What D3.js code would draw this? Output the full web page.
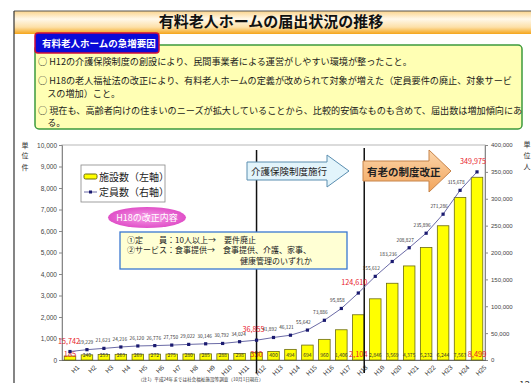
<!DOCTYPE html>
<html lang="ja">
<head>
<meta charset="utf-8">
<script src="https://cdn.jsdelivr.net/npm/d3@7/dist/d3.min.js"></script>
<style>
  html, body { margin: 0; padding: 0; background: #fff; }
  svg { display: block; font-family: "Noto Sans CJK JP", "Noto Sans", sans-serif; }
</style>
</head>
<body>
<svg id="chart" width="531" height="383"></svg>
<script>
// 年度（平成）
const years = ["H1","H2","H3","H4","H5","H6","H7","H8","H9","H10","H11","H12","H13",
  "H14","H15","H16","H17","H18","H19","H20","H21","H22","H23","H24","H25"];
// 施設数（件）
const facilities = [185, 240, 253, 263, 269, 272, 275, 280, 285, 288, 298, 350, 400,
  494, 694, 960, 1406, 2104, 2846, 3569, 4375, 5232, 6244, 7563, 8499];
// 定員数（人）
const capacity = [15742, 19229, 21623, 24216, 26120, 26776, 27750, 29022, 30146, 30792, 34024, 36855, 41892,
  46121, 55642, 73886, 95858, 124610, 155612, 183236, 208827, 235896, 271286, 315678, 349975];
// 軸目盛
const leftTicks = [0, 1000, 2000, 3000, 4000, 5000, 6000, 7000, 8000, 9000, 10000];
const rightTicks = [0, 50000, 100000, 150000, 200000, 250000, 300000, 350000, 400000];
// 強調表示する年度
const highlightYears = ["H1", "H12", "H18", "H25"];

const reasons = [
  "○ H12の介護保険制度の創設により、民間事業者による運営がしやすい環境が整ったこと。",
  "○ H18の老人福祉法の改正により、有料老人ホームの定義が改められて対象が増えた（定員要件の廃止、対象サービ",
  "　スの増加）こと。",
  "○ 現在も、高齢者向けの住まいのニーズが拡大していることから、比較的安価なものも含めて、届出数は増加傾向にあ",
  "　る。"
];

const svg = d3.select("#chart");
const defs = svg.append("defs");

// ---- 見出し帯 ----
const hg = defs.append("linearGradient").attr("id", "hdr").attr("x1", 0).attr("y1", 0).attr("x2", 0).attr("y2", 1);
hg.append("stop").attr("offset", "0%").attr("stop-color", "#fbd48c");
hg.append("stop").attr("offset", "35%").attr("stop-color", "#fff8ea");
hg.append("stop").attr("offset", "70%").attr("stop-color", "#fde0a8");
hg.append("stop").attr("offset", "100%").attr("stop-color", "#f5a51a");
svg.append("rect").attr("x", 14).attr("y", 11).attr("width", 520).attr("height", 23).attr("fill", "url(#hdr)");
svg.append("line").attr("x1", 14).attr("x2", 531).attr("y1", 11).attr("y2", 11).attr("stroke", "#555").attr("stroke-width", 1);
svg.append("line").attr("x1", 14).attr("x2", 14).attr("y1", 11).attr("y2", 383).attr("stroke", "#333").attr("stroke-width", 1.2);
svg.append("text").attr("x", 271).attr("y", 27).attr("text-anchor", "middle")
  .attr("font-size", 15).attr("font-weight", "bold").attr("fill", "#111")
  .text("有料老人ホームの届出状況の推移");

// ---- 急増要因ボックス ----
svg.append("rect").attr("x", 35).attr("y", 45).attr("width", 487).attr("height", 84).attr("rx", 4)
  .attr("fill", "#ffffb4").attr("stroke", "#3c9a3c").attr("stroke-width", 1.5);
svg.append("rect").attr("x", 35).attr("y", 33).attr("width", 124).attr("height", 20).attr("rx", 3)
  .attr("fill", "#0a0ad8").attr("stroke", "#d0103a").attr("stroke-width", 1.5);
svg.append("text").attr("x", 42).attr("y", 47).attr("font-size", 9.5).attr("font-weight", "bold")
  .attr("fill", "#fff").text("有料老人ホームの急増要因");
const reasonY = [66, 85, 98, 115, 127];
svg.append("g").selectAll("text").data(reasons).join("text")
  .attr("x", 38).attr("y", (d, i) => reasonY[i] - 1)
  .attr("font-size", 9.15).attr("fill", "#1a1a1a").text(d => d);

// ---- グラフ領域 ----
const plot = { left: 62, right: 485, top: 145, bottom: 360 };
const x = d3.scaleBand().domain(years).range([61.5, 485.5]).paddingInner(0.32).paddingOuter(0.16);
const yL = d3.scaleLinear().domain([0, 10000]).range([plot.bottom, plot.top]);
const yR = d3.scaleLinear().domain([0, 400000]).range([plot.bottom, plot.top]);
const cx = d => x(d) + x.bandwidth() / 2;

svg.append("rect").attr("x", plot.left).attr("y", plot.top)
  .attr("width", plot.right - plot.left).attr("height", plot.bottom - plot.top)
  .attr("fill", "#fff").attr("stroke", "#c4c4c4").attr("stroke-width", 1.2);

// 左軸
const axL = svg.append("g").attr("transform", `translate(${plot.left},0)`)
  .call(d3.axisLeft(yL).tickValues(leftTicks).tickFormat(d3.format(",")).tickSize(3));
axL.select(".domain").attr("stroke", "#888");
axL.selectAll(".tick line").attr("stroke", "#888");
axL.selectAll(".tick text").attr("font-size", 6.5).attr("fill", "#444").attr("x", -5);

// 右軸
const axR = svg.append("g").attr("transform", `translate(${plot.right},0)`)
  .call(d3.axisRight(yR).tickValues(rightTicks).tickFormat(d3.format(",")).tickSize(3));
axR.select(".domain").attr("stroke", "#888");
axR.selectAll(".tick line").attr("stroke", "#888");
axR.selectAll(".tick text").attr("font-size", 6).attr("fill", "#444").attr("x", 6);

// 下軸
const axB = svg.append("g").attr("transform", `translate(0,${plot.bottom})`)
  .call(d3.axisBottom(x).tickSize(0));
axB.select(".domain").attr("stroke", "#666");
axB.selectAll(".tick text").attr("font-size", 6.5).attr("fill", "#333")
  .attr("text-anchor", "end").attr("transform", "translate(5,3) rotate(-45)").attr("dy", "0.6em");

// 単位
[["単", 147.5], ["位", 158], ["件", 169.5]].forEach(([t, yy]) =>
  svg.append("text").attr("x", 25).attr("y", yy).attr("text-anchor", "middle").attr("font-size", 7).attr("fill", "#333").text(t));
[["単", 147], ["位", 157.5], ["人", 168.5]].forEach(([t, yy]) =>
  svg.append("text").attr("x", 527).attr("y", yy).attr("text-anchor", "middle").attr("font-size", 7).attr("fill", "#333").text(t));

// 施設数（棒）
svg.append("g").selectAll("rect").data(years).join("rect")
  .attr("x", d => x(d)).attr("width", x.bandwidth())
  .attr("y", (d, i) => yL(facilities[i]))
  .attr("height", (d, i) => plot.bottom - yL(facilities[i]))
  .attr("fill", "#ffff00").attr("stroke", "#6b6b10").attr("stroke-width", 0.8);

// 棒の数値
svg.append("g").selectAll("text").data(years).join("text")
  .attr("x", d => cx(d)).attr("y", plot.bottom - 3)
  .attr("text-anchor", "middle")
  .attr("font-size", d => highlightYears.includes(d) ? 7.5 : 5)
  .attr("fill", d => highlightYears.includes(d) ? "#e8202a" : "#333")
  .text((d, i) => d3.format(",")(facilities[i]));

// 縦の区切り線（H12, H18）
svg.append("line").attr("x1", cx("H12")).attr("x2", cx("H12")).attr("y1", 150).attr("y2", 373)
  .attr("stroke", "#111").attr("stroke-width", 1.5);
const xH18 = cx("H18") + x.step() * 0.35;
svg.append("line").attr("x1", xH18).attr("x2", xH18).attr("y1", 148).attr("y2", 373)
  .attr("stroke", "#111").attr("stroke-width", 1.5);

// 定員数（折れ線）
const line = d3.line().x(d => cx(d)).y((d, i) => yR(capacity[i]));
svg.append("path").datum(years).attr("d", line)
  .attr("fill", "none").attr("stroke", "#6a6aa6").attr("stroke-width", 1);
svg.append("g").selectAll("rect").data(years).join("rect")
  .attr("x", d => cx(d) - 1.6).attr("y", (d, i) => yR(capacity[i]) - 1.6)
  .attr("width", 3.2).attr("height", 3.2).attr("fill", "#1a1a70");

// 定員数の数値
svg.append("g").selectAll("text").data(years).join("text")
  .attr("x", (d, i) => cx(d) - (d === "H12" ? 3 : i < 12 ? 1 : 4))
  .attr("y", (d, i) => yR(capacity[i]) - (highlightYears.includes(d) ? 8 : 6))
  .attr("text-anchor", "middle")
  .attr("font-size", d => highlightYears.includes(d) ? 7.2 : 4.8)
  .attr("fill", d => highlightYears.includes(d) ? "#e8202a" : "#333")
  .text((d, i) => d3.format(",")(capacity[i]));

// 凡例
const lg = svg.append("g");
lg.append("rect").attr("x", 81).attr("y", 165).attr("width", 84).attr("height", 37)
  .attr("fill", "#fff").attr("stroke", "#888").attr("stroke-width", 0.8);
lg.append("rect").attr("x", 84).attr("y", 174).attr("width", 13).attr("height", 5).attr("rx", 1.5)
  .attr("fill", "#ffff00").attr("stroke", "#6b6b10").attr("stroke-width", 1);
lg.append("text").attr("x", 99).attr("y", 180.5).attr("font-size", 10).attr("fill", "#222").text("施設数（左軸）");
lg.append("line").attr("x1", 84).attr("x2", 97).attr("y1", 192).attr("y2", 192).attr("stroke", "#6a6aa6");
lg.append("rect").attr("x", 89).attr("y", 190.5).attr("width", 3).attr("height", 3).attr("fill", "#1a1a70");
lg.append("text").attr("x", 99).attr("y", 196).attr("font-size", 10).attr("fill", "#222").text("定員数（右軸）");

// H18の改正内容
const pg = defs.append("radialGradient").attr("id", "pink");
pg.append("stop").attr("offset", "0%").attr("stop-color", "#f79ae6");
pg.append("stop").attr("offset", "100%").attr("stop-color", "#e050c8");
svg.append("ellipse").attr("cx", 147).attr("cy", 217.5).attr("rx", 39).attr("ry", 10.5)
  .attr("fill", "url(#pink)");
svg.append("text").attr("x", 147).attr("y", 221).attr("text-anchor", "middle")
  .attr("font-size", 9).attr("fill", "#fff").text("H18の改正内容");

svg.append("rect").attr("x", 120).attr("y", 232).attr("width", 227).attr("height", 37)
  .attr("fill", "#ffffd4").attr("stroke", "#3a78d0").attr("stroke-width", 1.3);
const noteLines = [
  ["①定　　員：10人以上→　要件廃止", 127, 243],
  ["②サービス：食事提供→　食事提供、介護、家事、", 127, 253],
  ["健康管理のいずれか", 240, 264]
];
noteLines.forEach(([t, xx, yy]) =>
  svg.append("text").attr("x", xx).attr("y", yy).attr("font-size", 8).attr("fill", "#222").text(t));

// 矢印の形
const arrow = (x0, x1, xt, yc, hb, hh) =>
  `M${x0},${yc - hb}L${x1},${yc - hb}L${x1},${yc - hh}L${xt},${yc}L${x1},${yc + hh}L${x1},${yc + hb}L${x0},${yc + hb}Z`;

// 矢印：介護保険制度施行
svg.append("path").attr("d", arrow(247, 327, 349, 171, 9, 16))
  .attr("fill", "#e2f4fb").attr("stroke", "#5a8eb0").attr("stroke-width", 1);
svg.append("text").attr("x", 251).attr("y", 175).attr("font-size", 9.5).attr("fill", "#222").text("介護保険制度施行");

// 矢印：有老の制度改正
const og = defs.append("linearGradient").attr("id", "orng").attr("x1", 0).attr("y1", 0).attr("x2", 0).attr("y2", 1);
og.append("stop").attr("offset", "0%").attr("stop-color", "#fcd6ac");
og.append("stop").attr("offset", "100%").attr("stop-color", "#f2a45a");
svg.append("path").attr("d", arrow(363, 429, 451, 171, 10, 21))
  .attr("fill", "url(#orng)").attr("stroke", "#c7844a").attr("stroke-width", 1);
svg.append("text").attr("x", 367).attr("y", 176).attr("font-size", 10.5).attr("font-weight", "bold")
  .attr("fill", "#222").text("有老の制度改正");

// 注記・ページ番号
svg.append("text").attr("x", 138).attr("y", 381).attr("font-size", 4.6).attr("fill", "#333")
  .text("（注1）平成24年までは社会福祉施設等調査（10月1日現在）");
svg.append("text").attr("x", 519).attr("y", 389).attr("font-size", 10).attr("fill", "#333").text("12");
</script>
</body>
</html>
